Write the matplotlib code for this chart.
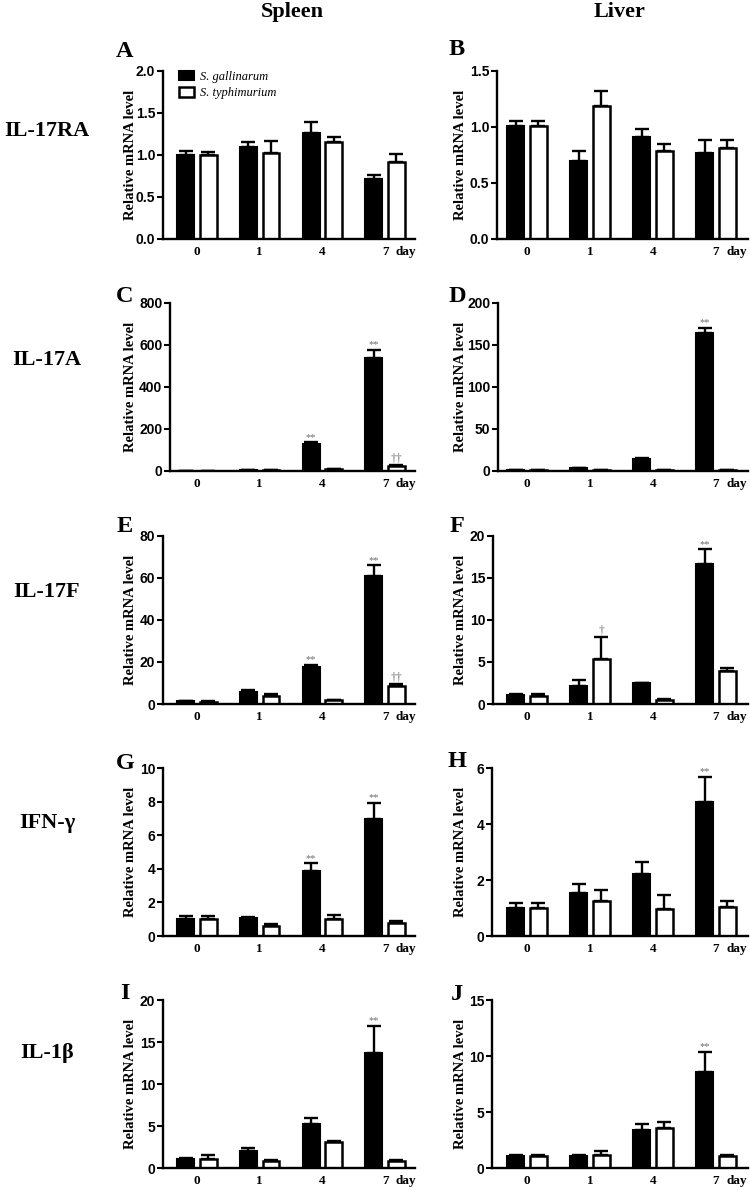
import numpy as np
import matplotlib.pyplot as plt

W, H = 750, 1187

days = ['0', '1', '4', '7']
groups = ['S. gallinarum', 'S. typhimurium']
genes = ['IL-17RA', 'IL-17A', 'IL-17F', 'IFN-γ', 'IL-1β']
tissues = ['Spleen', 'Liver']
letters = ['A', 'B', 'C', 'D', 'E', 'F', 'G', 'H', 'I', 'J']

# spleen, S. gallinarum (sg) and S. typhimurium (st): mean and upper error
sp_17ra_sg = [1.00, 1.09, 1.26, 0.72]
sp_17ra_sg_err = [0.05, 0.07, 0.13, 0.04]
sp_17ra_st = [1.00, 1.02, 1.16, 0.92]
sp_17ra_st_err = [0.04, 0.15, 0.06, 0.09]

sp_17a_sg = [1, 3, 128, 538]
sp_17a_sg_err = [1, 1, 8, 40]
sp_17a_st = [1, 4, 9, 22]
sp_17a_st_err = [1, 1, 2, 8]

sp_17f_sg = [1.2, 5.6, 17.6, 60.8]
sp_17f_sg_err = [0.2, 1.0, 1.0, 5.2]
sp_17f_st = [1.1, 3.6, 1.8, 8.6]
sp_17f_st_err = [0.2, 1.1, 0.2, 0.8]

sp_ifng_sg = [1.03, 1.05, 3.88, 6.95]
sp_ifng_sg_err = [0.14, 0.06, 0.44, 0.97]
sp_ifng_st = [1.03, 0.61, 1.01, 0.75]
sp_ifng_st_err = [0.14, 0.08, 0.24, 0.12]

sp_il1b_sg = [1.1, 1.98, 5.19, 13.66]
sp_il1b_sg_err = [0.1, 0.42, 0.81, 3.29]
sp_il1b_st = [1.03, 0.79, 3.09, 0.8]
sp_il1b_st_err = [0.47, 0.11, 0.11, 0.1]

# liver
lv_17ra_sg = [1.01, 0.70, 0.91, 0.77]
lv_17ra_sg_err = [0.04, 0.09, 0.07, 0.11]
lv_17ra_st = [1.01, 1.19, 0.79, 0.81]
lv_17ra_st_err = [0.04, 0.13, 0.06, 0.07]

lv_17a_sg = [1, 3, 14.6, 164.5]
lv_17a_sg_err = [0.3, 0.5, 1.4, 5.5]
lv_17a_st = [1, 1, 1, 1]
lv_17a_st_err = [0.3, 0.3, 0.3, 0.3]

lv_17f_sg = [1.05, 2.1, 2.45, 16.7]
lv_17f_sg_err = [0.1, 0.8, 0.1, 1.7]
lv_17f_st = [1.0, 5.3, 0.5, 3.9]
lv_17f_st_err = [0.25, 2.65, 0.05, 0.4]

lv_ifng_sg = [0.99, 1.53, 2.23, 4.80]
lv_ifng_sg_err = [0.19, 0.32, 0.40, 0.88]
lv_ifng_st = [0.99, 1.25, 0.96, 1.02]
lv_ifng_st_err = [0.19, 0.39, 0.50, 0.23]

lv_il1b_sg = [1.07, 1.07, 3.37, 8.53]
lv_il1b_sg_err = [0.06, 0.06, 0.60, 1.85]
lv_il1b_st = [1.07, 1.19, 3.61, 1.04]
lv_il1b_st_err = [0.13, 0.31, 0.48, 0.09]

# significance marks above the bars
no_mark = ['', '', '', '']
sp_17a_sg_sig = ['', '', '**', '**']
sp_17a_st_sig = ['', '', '', '††']
sp_17f_sg_sig = ['', '', '**', '**']
sp_17f_st_sig = ['', '', '', '††']
sp_ifng_sg_sig = ['', '', '**', '**']
sp_il1b_sg_sig = ['', '', '', '**']
lv_17a_sg_sig = ['', '', '', '**']
lv_17f_sg_sig = ['', '', '', '**']
lv_17f_st_sig = ['', '†', '', '']
lv_ifng_sg_sig = ['', '', '', '**']
lv_il1b_sg_sig = ['', '', '', '**']

spleen_ymax = [2.0, 800, 80, 10, 20]
spleen_ystep = [0.5, 200, 20, 2, 5]
liver_ymax = [1.5, 200, 20, 6, 15]
liver_ystep = [0.5, 50, 5, 2, 5]

spleen = [
    (sp_17ra_sg, sp_17ra_sg_err, sp_17ra_st, sp_17ra_st_err, no_mark, no_mark),
    (sp_17a_sg, sp_17a_sg_err, sp_17a_st, sp_17a_st_err, sp_17a_sg_sig, sp_17a_st_sig),
    (sp_17f_sg, sp_17f_sg_err, sp_17f_st, sp_17f_st_err, sp_17f_sg_sig, sp_17f_st_sig),
    (sp_ifng_sg, sp_ifng_sg_err, sp_ifng_st, sp_ifng_st_err, sp_ifng_sg_sig, no_mark),
    (sp_il1b_sg, sp_il1b_sg_err, sp_il1b_st, sp_il1b_st_err, sp_il1b_sg_sig, no_mark),
]
liver = [
    (lv_17ra_sg, lv_17ra_sg_err, lv_17ra_st, lv_17ra_st_err, no_mark, no_mark),
    (lv_17a_sg, lv_17a_sg_err, lv_17a_st, lv_17a_st_err, lv_17a_sg_sig, no_mark),
    (lv_17f_sg, lv_17f_sg_err, lv_17f_st, lv_17f_st_err, lv_17f_sg_sig, lv_17f_st_sig),
    (lv_ifng_sg, lv_ifng_sg_err, lv_ifng_st, lv_ifng_st_err, lv_ifng_sg_sig, no_mark),
    (lv_il1b_sg, lv_il1b_sg_err, lv_il1b_st, lv_il1b_st_err, lv_il1b_sg_sig, no_mark),
]

SERIF = ['Liberation Serif', 'DejaVu Serif']
SANS = ['Liberation Sans', 'DejaVu Sans']

# layout in pixels
row_top = [71, 303, 536, 768, 1000]
row_h = 168
left_col_x = [163, 170, 163, 163, 163]
right_col_x = [497, 498, 493, 492, 492]
col_right = [415, 748]
col_c0 = [197, 527]     # pixel centre of first day group
col_sp = [62.7, 63.0]   # pixel distance between day groups
ylabel_x = [137, 467]
letter_x = [125, 457]
letter_y = [[57, 302, 532, 769, 999], [55, 302, 532, 767, 1000]]
gene_y = [136, 365, 597, 828, 1058]

fig = plt.figure(figsize=(W / 100, H / 100), dpi=100)
fig.patch.set_facecolor('white')


def draw_panel(ax, data, ymax, ystep, decimals, legend=False):
    sg, sg_err, st, st_err, sg_sig, st_sig = data
    x = np.arange(len(days))
    ekw = dict(elinewidth=1.7, capthick=1.7, ecolor='black', zorder=1)
    b1 = ax.bar(x - 0.18, sg, 0.27, color='black', edgecolor='black', linewidth=1.5,
                yerr=[np.zeros(4), sg_err], capsize=5, error_kw=ekw, zorder=2)
    b2 = ax.bar(x + 0.18, st, 0.27, color='white', edgecolor='black', linewidth=1.8,
                yerr=[np.zeros(4), st_err], capsize=5, error_kw=ekw, zorder=2)
    for xs, vals, errs, sig in [(x - 0.18, sg, sg_err, sg_sig), (x + 0.18, st, st_err, st_sig)]:
        for xi, v, e, s in zip(xs, vals, errs, sig):
            if s:
                fs = 7.5 if s.startswith('*') else 8.5
                ax.annotate(s, xy=(xi, v + e), xytext=(0, 0.5), textcoords='offset points',
                            ha='center', va='bottom', color='#6e6e6e', fontsize=fs,
                            family=SERIF)
    ax.set_ylim(0, ymax)
    ticks = np.arange(0, ymax + ystep / 2, ystep)
    ax.set_yticks(ticks)
    ax.set_yticklabels([f'{t:.{decimals}f}' for t in ticks], family=SANS,
                       fontweight='bold', fontsize=10)
    ax.set_xticks(x)
    ax.set_xticklabels(days, family=SERIF, fontweight='bold', fontsize=9.5)
    ax.tick_params(axis='x', length=0, pad=5)
    ax.tick_params(axis='y', length=4, width=1.5, pad=1.5)
    for side in ['top', 'right']:
        ax.spines[side].set_visible(False)
    for side in ['left', 'bottom']:
        ax.spines[side].set_linewidth(1.7)
    ax.annotate('day', xy=(3, 0), xycoords=('data', 'axes fraction'), xytext=(7.5, -5),
                textcoords='offset points', ha='left', va='top', family=SERIF,
                fontweight='bold', fontsize=9.5)
    ax.set_ylabel('Relative mRNA level', family=SERIF, fontweight='bold', fontsize=10.5)
    if legend:
        ax.legend([b1, b2], groups, loc='upper left', bbox_to_anchor=(0.065, 1.0),
                  frameon=False, prop=dict(family=SERIF, style='italic', size=9),
                  handlelength=1.2, handleheight=0.75, handletextpad=0.45,
                  labelspacing=0.35, borderpad=0, borderaxespad=0)


for col, (panels, ymaxs, ysteps, lefts) in enumerate([
        (spleen, spleen_ymax, spleen_ystep, left_col_x),
        (liver, liver_ymax, liver_ystep, right_col_x)]):
    for row in range(5):
        l = lefts[row]
        r = col_right[col]
        top = row_top[row]
        ax = fig.add_axes([l / W, 1 - (top + row_h) / H, (r - l) / W, row_h / H])
        ax.set_xlim((l - col_c0[col]) / col_sp[col], (r - col_c0[col]) / col_sp[col])
        decimals = 1 if row == 0 else 0
        draw_panel(ax, panels[row], ymaxs[row], ysteps[row], decimals,
                   legend=(row == 0 and col == 0))
        ax.yaxis.set_label_coords((ylabel_x[col] - l) / (r - l), 0.5)
        fig.text(letter_x[col] / W, 1 - letter_y[col][row] / H, letters[row * 2 + col],
                 ha='center', va='baseline', family=SERIF, fontweight='bold', fontsize=17.5)

for name, xc in zip(tissues, [292, 620]):
    fig.text(xc / W, 1 - 17 / H, name, ha='center', va='baseline', family=SERIF,
             fontweight='bold', fontsize=16)

for g, yb in zip(genes, gene_y):
    fig.text(47 / W, 1 - yb / H, g, ha='center', va='baseline', family=SERIF,
             fontweight='bold', fontsize=16)

fig.savefig('out.png', dpi=100, facecolor='white')
